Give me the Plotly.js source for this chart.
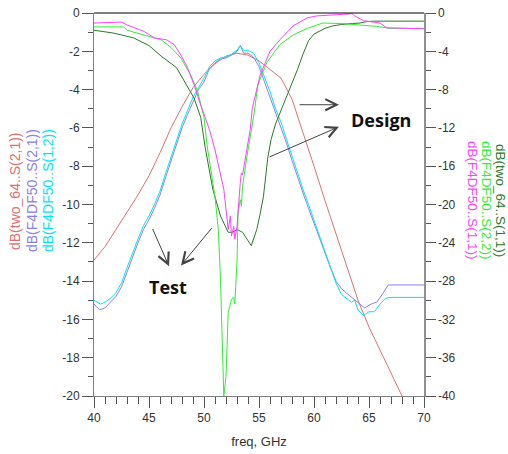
<!DOCTYPE html>
<html>
<head>
<meta charset="utf-8">
<script src="https://cdn.plot.ly/plotly-3.0.1.min.js"></script>
<style>html,body{margin:0;padding:0;background:#fff;}#chart{width:508px;height:454px;}</style>
</head>
<body>
<div id="chart"></div>
<script>
// ---- Data ----
// Design S21 (left axis)
var freqDesignS21 = [40,41,42,43,44,45,46,47,48,49,50,51,52,53,54,55,56,57,58,59,60,61,62,63,64,65,66,67,68,69,70];
var s21Design = [-12.9,-12.2,-11.3,-10.4,-9.5,-8.5,-7.3,-6.0,-4.9,-3.9,-3.2,-2.65,-2.25,-2.1,-2.2,-2.5,-2.95,-3.4,-4.5,-6.2,-8.0,-9.8,-11.5,-13.3,-15.0,-16.4,-17.6,-18.8,-20.0,-21.2,-22.4];

// Measured S21 (left axis)
var freqMeasS21 = [40,40.5,41,41.5,42,42.5,43,43.5,44,44.5,45,45.5,46,46.5,47,47.5,48,48.5,49,49.5,50,50.5,51,51.5,52,52.5,53,53.3,53.6,54,54.5,55,55.5,56,56.5,57,57.5,58,58.5,59,59.5,60,60.5,61,61.5,62,62.5,63,63.5,64,64.6,65.2,65.7,66.2,66.75,70];
var s21Meas = [-15.2,-15.5,-15.4,-15.1,-14.8,-14.3,-13.5,-12.7,-12.0,-11.3,-10.8,-10.2,-9.5,-8.6,-7.7,-6.8,-6.0,-5.3,-4.6,-4.0,-3.6,-2.9,-2.6,-2.4,-2.35,-2.2,-2.0,-1.7,-2.1,-2.1,-2.3,-2.8,-3.6,-4.4,-5.2,-5.9,-6.8,-7.7,-8.6,-9.4,-10.2,-11.0,-11.8,-12.6,-13.3,-14.0,-14.4,-14.65,-14.9,-15.1,-15.4,-15.2,-15.1,-14.7,-14.2,-14.2];

// Measured S12 (left axis)
var freqMeasS12 = [40,40.6,41,41.5,42,42.5,43,43.5,44,44.5,45,45.5,46,46.5,47,47.5,48,48.5,49,49.5,50,50.5,51,51.5,52,52.5,53,53.3,53.6,54,54.5,55,55.5,56,56.5,57,57.5,58,58.5,59,59.5,60,60.5,61,61.5,62,62.5,63,63.4,63.7,64,64.5,65,65.5,66,66.5,67,70];
var s12Meas = [-15.0,-15.2,-15.1,-14.9,-14.6,-14.1,-13.3,-12.5,-11.8,-11.1,-10.6,-10.0,-9.3,-8.4,-7.5,-6.6,-5.8,-5.1,-4.4,-3.9,-3.4,-2.8,-2.5,-2.35,-2.3,-2.15,-1.95,-1.7,-1.95,-1.95,-2.1,-2.6,-3.3,-4.1,-5.0,-5.7,-6.6,-7.5,-8.4,-9.2,-10.0,-10.8,-11.6,-12.5,-13.3,-14.1,-14.7,-14.9,-15.1,-15.0,-15.5,-15.8,-15.6,-15.6,-15.2,-14.9,-14.85,-14.85];

// Design S11 (right axis)
var freqDesignS11 = [40,41.8,43.6,45,46.1,47.5,48.2,49.1,49.7,50.1,50.8,51.5,52.2,52.6,53,53.5,54.3,54.8,55.1,55.4,55.8,56.1,56.5,57,57.5,58,58.5,59,59.5,60,60.5,61,61.7,62.5,63.5,64.2,64.8,65.5,70];
var s11Design = [-1.8,-2.1,-2.6,-3.4,-4.5,-5.7,-7.1,-8.9,-10.9,-14.0,-18.4,-21.2,-22.9,-22.9,-22.6,-22.9,-24.3,-22.6,-21.0,-19.2,-15.1,-13.2,-11.6,-10.2,-8.8,-7.4,-5.9,-4.3,-2.9,-2.2,-1.9,-1.6,-1.35,-1.2,-1.1,-1.05,-0.9,-0.85,-0.85];

// Measured S22 (right axis)
var freqMeasS22 = [40,42.7,43,44.5,46.1,47,47.9,48.8,49.4,50,50.3,51,51.3,51.5,51.6,51.8,52.0,52.1,52.2,52.5,52.7,52.8,53,53.1,53.3,53.4,53.5,53.9,54.2,54.5,54.9,55.7,56.9,58.1,59.4,60.8,62.5,64.2,65.7,66.9,70];
var s22Meas = [-1.45,-1.45,-1.8,-2.3,-2.8,-3.6,-4.7,-6.5,-8.1,-10.9,-14.0,-19.2,-22.6,-27.8,-33.0,-40.0,-38.0,-35.1,-31.3,-29.9,-29.7,-30.4,-26.0,-20.8,-19.5,-20.2,-18.1,-15.0,-12.9,-10.9,-7.5,-5.2,-3.3,-2.3,-1.6,-1.05,-1.1,-1.25,-1.4,-1.6,-1.6];

// Measured S11 (right axis)
var freqMeasS11 = [40,42.5,43,44.5,45.5,46.6,47.3,47.9,48.5,49.1,49.7,50.1,50.5,51,51.5,51.8,52.2,52.4,52.5,52.7,52.8,53,53.3,53.4,53.5,53.9,54.2,54.4,55.1,56,56.9,58.1,59.4,60.3,61.5,62.6,63.2,63.4,63.7,64.5,66,66.6,70];
var s11Meas = [-1.05,-0.95,-1.25,-1.9,-2.6,-2.8,-3.3,-4.4,-5.7,-7.5,-9.6,-11.0,-12.2,-14.3,-16.7,-18.4,-22.6,-21.2,-23.3,-22.3,-23.6,-22.3,-17.7,-16.7,-16.9,-14.3,-12.2,-9.9,-6.5,-4.0,-2.8,-1.35,-0.5,-0.3,-0.2,-0.1,-0.1,0,-0.3,-0.8,-1.05,-1.55,-1.65];

var leftTickVals = [0,-2,-4,-6,-8,-10,-12,-14,-16,-18,-20];
var rightTickVals = [0,-4,-8,-12,-16,-20,-24,-28,-32,-36,-40];
var xTickVals = [40,45,50,55,60,65,70];

var leftLabels = ['dB(two_64..S(2,1))','dB(F4DF50..S(2,1))','dB(F4DF50..S(1,2))'];
var rightLabels = ['dB(two_64..S(1,1))','dB(F4DF50..S(2,2))','dB(F4DF50..S(1,1))'];
var xTitle = 'freq, GHz';

var cRed = '#e07070', cViolet = '#8c80f0', cCyan = '#00e5f5';
var cDkGreen = '#2a7a2a', cGreen = '#30ee30', cMagenta = '#ff40ff';

var traces = [
  {x: freqDesignS21, y: s21Design, yaxis: 'y', line: {color: cRed, width: 1}},
  {x: freqMeasS21, y: s21Meas, yaxis: 'y', line: {color: cViolet, width: 1}},
  {x: freqMeasS12, y: s12Meas, yaxis: 'y', line: {color: cCyan, width: 1}},
  {x: freqDesignS11, y: s11Design, yaxis: 'y2', line: {color: cDkGreen, width: 1}},
  {x: freqMeasS22, y: s22Meas, yaxis: 'y2', line: {color: cGreen, width: 1}},
  {x: freqMeasS11, y: s11Meas, yaxis: 'y2', line: {color: cMagenta, width: 1}}
].map(function(t){ t.type = 'scatter'; t.mode = 'lines'; t.showlegend = false; t.hoverinfo = 'skip'; return t; });

var tickFont = {family: 'Liberation Sans, Arial, sans-serif', size: 12, color: '#333'};

function arrow(hx, hy, tx, ty) {
  return {x: hx, y: hy, ax: tx, ay: ty, xref: 'x', yref: 'y', axref: 'x', ayref: 'y',
    text: '', showarrow: true, arrowhead: 5, arrowsize: 2.2, arrowwidth: 1, arrowcolor: '#444', standoff: 0, startstandoff: 0};
}

var annotations = [
  {x: 66.1, y: -5.57, xref: 'x', yref: 'y', text: '<b>Design</b>', showarrow: false,
   font: {family: 'Open Sans, sans-serif', size: 18, color: '#111'}},
  {x: 46.7, y: -14.3, xref: 'x', yref: 'y', text: '<b>Test</b>', showarrow: false,
   font: {family: 'Open Sans, sans-serif', size: 18, color: '#111'}},
  arrow(62.27, -4.79, 58.55, -4.79),
  arrow(62.27, -5.94, 55.82, -7.55),
  arrow(46.82, -13.23, 45.27, -11.2),
  arrow(47.91, -13.18, 50.82, -11.15)
];

var leftColors = [cRed, cViolet, cCyan];
var leftX = [15, 32, 48];
leftLabels.forEach(function(t, i){
  annotations.push({xref: 'paper', yref: 'paper', x: (leftX[i]-94)/330, y: (396-191)/383,
    text: t, showarrow: false, textangle: -90, xanchor: 'center', yanchor: 'middle',
    font: {family: 'Liberation Sans, Arial, sans-serif', size: 14, color: leftColors[i]}});
});
var rightColors = [cDkGreen, cGreen, cMagenta];
var rightX = [501, 487, 473];
rightLabels.forEach(function(t, i){
  annotations.push({xref: 'paper', yref: 'paper', x: (rightX[i]-94)/330, y: (396-200)/383,
    text: t, showarrow: false, textangle: 90, xanchor: 'center', yanchor: 'middle',
    font: {family: 'Liberation Sans, Arial, sans-serif', size: 13.5, color: rightColors[i]}});
});

var layout = {
  width: 508, height: 454,
  margin: {l: 94, r: 84, t: 13, b: 58, pad: 0},
  paper_bgcolor: '#fff', plot_bgcolor: '#fff',
  showlegend: false,
  xaxis: {range: [40, 70], tickmode: 'array', tickvals: xTickVals, ticktext: xTickVals.map(String),
    ticks: 'outside', ticklen: 11, tickcolor: '#555', showgrid: false, zeroline: false,
    showline: true, linecolor: '#808080', linewidth: 1, tickfont: tickFont,
    minor: {dtick: 1, ticks: 'outside', ticklen: 7, tickcolor: '#555', showgrid: false},
    title: {text: xTitle, font: {family: 'Liberation Sans, Arial, sans-serif', size: 13, color: '#333'}, standoff: 12}},
  yaxis: {range: [-20, 0], tickmode: 'array', tickvals: leftTickVals, ticktext: leftTickVals.map(String),
    ticks: 'outside', ticklen: 11, tickcolor: '#555', showgrid: false, zeroline: false,
    showline: true, linecolor: '#808080', linewidth: 1, tickfont: tickFont,
    minor: {dtick: 1, ticks: 'outside', ticklen: 5, tickcolor: '#555', showgrid: false}},
  yaxis2: {range: [-40, 0], overlaying: 'y', side: 'right', tickmode: 'array', tickvals: rightTickVals, ticktext: rightTickVals.map(String),
    ticks: 'outside', ticklen: 10, tickcolor: '#555', showgrid: false, zeroline: false,
    showline: true, linecolor: '#909090', linewidth: 1.5, tickfont: tickFont,
    minor: {dtick: 2, ticks: 'outside', ticklen: 5, tickcolor: '#555', showgrid: false}},
  shapes: [{type: 'line', xref: 'paper', yref: 'paper', x0: 0, x1: 1, y0: 1, y1: 1, line: {color: '#000', width: 1}}],
  annotations: annotations
};

Plotly.newPlot('chart', traces, layout, {staticPlot: true, displayModeBar: false});
</script>
</body>
</html>
